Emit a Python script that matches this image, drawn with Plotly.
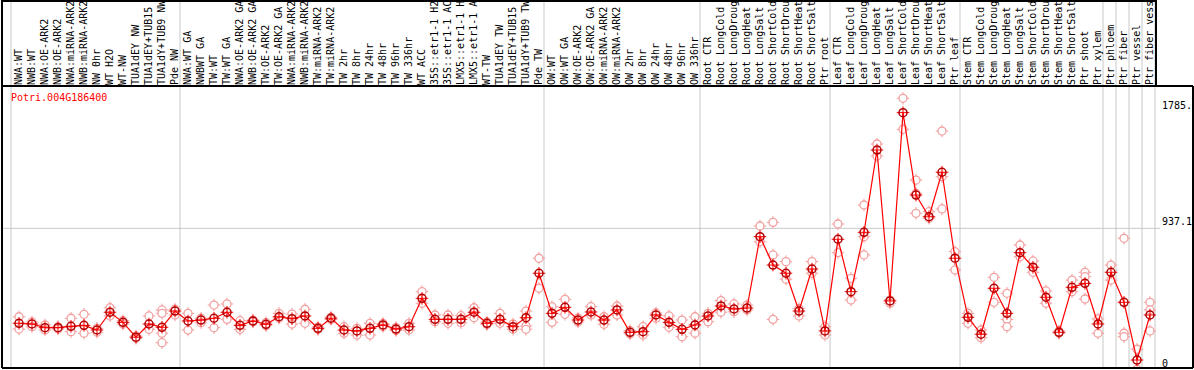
import plotly.graph_objects as go

gene = "Potri.004G186400"

labels = [
    "NWA:WT", "NWB:WT", "NWA:OE-ARK2", "NWB:OE-ARK2", "NWA:miRNA-ARK2", "NWB:miRNA-ARK2",
    "NW 0hr", "WT H2O", "WT-NW", "TUA1dEY NW", "TUA1dEY+TUB15", "TUA1dY+TUB9 NW", "Pde NW",
    "NWA:WT GA", "NWBWT GA", "TW:WT", "TW:WT GA", "NWA:OE-ARK2 GA", "NWB:OE-ARK2 GA",
    "TW:OE-ARK2", "TW:OE-ARK2 GA", "NWA:miRNA-ARK2", "NWB:miRNA-ARK2", "TW:miRNA-ARK2",
    "TW:miRNA-ARK2", "TW 2hr", "TW 8hr", "TW 24hr", "TW 48hr", "TW 96hr", "TW 336hr",
    "WT ACC", "35S::etr1-1 H2", "35S::etr1-1 AC", "LMX5::etr1-1 H", "LMX5::etr1-1 A",
    "WT-TW", "TUA1dEY TW", "TUA1dEY+TUB15", "TUA1dY+TUB9 TW", "Pde TW",
    "OW:WT", "OW:WT GA", "OW:OE-ARK2", "OW:OE-ARK2 GA", "OW:miRNA-ARK2", "OW:miRNA-ARK2",
    "OW 2hr", "OW 8hr", "OW 24hr", "OW 48hr", "OW 96hr", "OW 336hr",
    "Root CTR", "Root LongCold", "Root LongDroug", "Root LongHeat", "Root LongSalt",
    "Root ShortCold", "Root ShortDrou", "Root ShortHeat", "Root ShortSalt", "Ptr root",
    "Leaf CTR", "Leaf LongCold", "Leaf LongDroug", "Leaf LongHeat", "Leaf LongSalt",
    "Leaf ShortCold", "Leaf ShortDrou", "Leaf ShortHeat", "Leaf ShortSalt", "Ptr leaf",
    "Stem CTR", "Stem LongCold", "Stem LongDroug", "Stem LongHeat", "Stem LongSalt",
    "Stem ShortCold", "Stem ShortDrou", "Stem ShortHeat", "Stem ShortSalt", "Ptr shoot",
    "Ptr xylem", "Ptr phloem", "Ptr fiber", "Ptr vessel", "Ptr fiber vess",
]

means = [
    241, 236, 209, 209, 219, 226, 192, 322, 248, 139, 236, 212, 331,
    258, 265, 278, 322, 226, 258, 234, 289, 275, 295, 204, 278, 192, 185, 204, 229, 199,
    216, 424, 270, 270, 270, 322, 241, 270, 216, 282, 608,
    314, 358, 265, 324, 265, 339, 175, 180, 302, 248, 197, 229,
    295, 368, 346, 353, 876, 668, 608, 331, 639, 185,
    857, 473, 908, 1511, 405, 1785, 1181, 1022, 1348, 718,
    285, 161, 498, 314, 759, 652, 432, 175, 505, 534, 236,
    615, 395, -28, 302,
]

replicates = [
    [289, 199], [251, 216], [229, 192], [216, 199], [278, 180], [307, 168], [204, 175],
    [355, 295], [260, 236], [148, 131], [295, 197], [339, 314, 168, 99], [344, 302],
    [314, 192], [278, 246], [375, 209], [383, 270], [260, 197], [265, 251], [246, 224],
    [314, 278], [309, 236], [344, 241], [214, 196], [287, 269], [216, 168], [204, 155],
    [241, 155], [240, 218], [210, 188], [241, 192], [473, 388], [302, 253], [302, 241],
    [297, 246], [355, 282], [251, 232], [314, 241], [236, 197], [331, 221, 197], [718, 498],
    [363, 248], [417, 307], [280, 251], [363, 302], [289, 234], [368, 302], [188, 163],
    [216, 155], [317, 278], [295, 212], [265, 143], [289, 168],
    [314, 253], [407, 322], [383, 326], [375, 339], [954, 839], [981, 742, 270],
    [693, 564], [350, 295], [693, 608], [216, 155],
    [969, 759], [571, 412], [1108, 876, 742], [1555, 1467], [412, 388], [1890, 1663],
    [1291, 1194, 1047], [1059, 1011], [1650, 1316, 1079], [766, 632],
    [314, 241], [192, 136], [578, 395], [461, 270, 216], [815, 729], [698, 615],
    [478, 388], [185, 168], [558, 473], [615, 583, 419], [273, 168],
    [668, 558], [864, 168, 143], [51, -96], [395, 339, 185],
]

group_bounds = [0, 13, 41, 53, 63, 73, 84, 85, 86, 87, 88]
y_ticks = [937.1, 1785]
y_tick_text = ["937.1", "1785."]
zero_tick = [0]
zero_tick_text = ["0"]
grid_value = 937.1

FONT = "DejaVu Sans Mono"
PINK = "#f2a0a0"
RED = "#ff0000"
DARK = "#b00000"
GRAY = "#c8c8c8"

x = list(range(len(labels)))
rx, ry = [], []
for i, r in enumerate(replicates):
    for v in r:
        rx.append(i)
        ry.append(v)

fig = go.Figure()
fig.add_trace(go.Scatter(
    x=rx, y=ry, mode="markers", hoverinfo="skip",
    marker=dict(symbol="cross-thin-open", size=9, color=PINK, line=dict(color=PINK, width=1)),
))
fig.add_trace(go.Scatter(
    x=rx, y=ry, mode="markers",
    marker=dict(symbol="circle", size=8, color="white", line=dict(color=PINK, width=1.3)),
))
fig.add_trace(go.Scatter(
    x=x, y=means, mode="lines", line=dict(color=RED, width=1.2), hoverinfo="skip",
))
fig.add_trace(go.Scatter(
    x=x, y=means, mode="markers", yaxis="y2", hoverinfo="skip",
    marker=dict(symbol="cross-thin-open", size=9, color=RED, line=dict(color=RED, width=1)),
))
fig.add_trace(go.Scatter(
    x=x, y=means, mode="markers", yaxis="y2",
    marker=dict(symbol="circle-open", size=8, color=DARK, line=dict(color=DARK, width=1.5)),
))

XOFF = 0.615
xr = [-0.692 - XOFF, 88.077 - XOFF]
yr = [-86.5, 1980.2]

shapes = []
for k in group_bounds:
    shapes.append(dict(type="line", xref="x", yref="paper", x0=k - XOFF, x1=k - XOFF,
                       y0=0, y1=1.31, line=dict(color=GRAY, width=1), layer="below"))
shapes.append(dict(type="line", xref="paper", yref="y", x0=0, x1=1.0035,
                   y0=grid_value, y1=grid_value, line=dict(color=GRAY, width=1), layer="below"))
XR = (1193 - 2) / 1154.0
YT = (368 - 1) / 282.0
black = dict(color="black", width=2)
shapes += [
    dict(type="line", xref="paper", yref="paper", x0=0, x1=0, y0=0, y1=1.31, line=black),
    dict(type="line", xref="paper", yref="paper", x0=0, x1=XR, y0=0, y1=0, line=black),
    dict(type="line", xref="paper", yref="paper", x0=XR, x1=XR, y0=0, y1=1, line=black),
    dict(type="line", xref="paper", yref="paper", x0=0, x1=XR, y0=1, y1=1, line=black),
    dict(type="line", xref="paper", yref="paper", x0=0, x1=1, y0=YT, y1=YT, line=black),
    dict(type="line", xref="paper", yref="paper", x0=1, x1=1, y0=1, y1=1.31, line=black),
]

axis_font = dict(family=FONT, size=10, color="black")
fig.update_layout(
    width=1194, height=370,
    margin=dict(l=2, r=38, t=86, b=2, autoexpand=False),
    paper_bgcolor="white", plot_bgcolor="white",
    showlegend=False,
    font=dict(family=FONT, size=10, color="black"),
    xaxis=dict(side="top", range=xr, tickmode="array", tickvals=x, ticktext=labels,
               tickangle=-90, tickfont=axis_font, showgrid=False, zeroline=False,
               showline=False, ticks="", automargin=False, fixedrange=True),
    yaxis=dict(side="right", range=yr, tickmode="array", tickvals=y_ticks, ticktext=y_tick_text,
               ticklabelposition="outside top", ticklabelstandoff=5, tickfont=axis_font,
               showgrid=False, zeroline=False, showline=False, ticks="", automargin=False,
               fixedrange=True),
    yaxis2=dict(side="right", overlaying="y", range=yr, tickmode="array", tickvals=zero_tick,
                ticktext=zero_tick_text, ticklabelposition="outside bottom", ticklabelstandoff=5,
                tickfont=axis_font, showgrid=False, zeroline=False, showline=False, ticks="",
                automargin=False, fixedrange=True),
    shapes=shapes,
    annotations=[dict(text=gene, xref="paper", yref="paper", x=0.006, y=(368 - 97) / 282.0,
                      xanchor="left", yanchor="middle", showarrow=False,
                      font=dict(family=FONT, size=10, color=RED))],
)

fig.write_html("out.html", config={"displayModeBar": False},
               post_script="document.body.style.margin='0';")
